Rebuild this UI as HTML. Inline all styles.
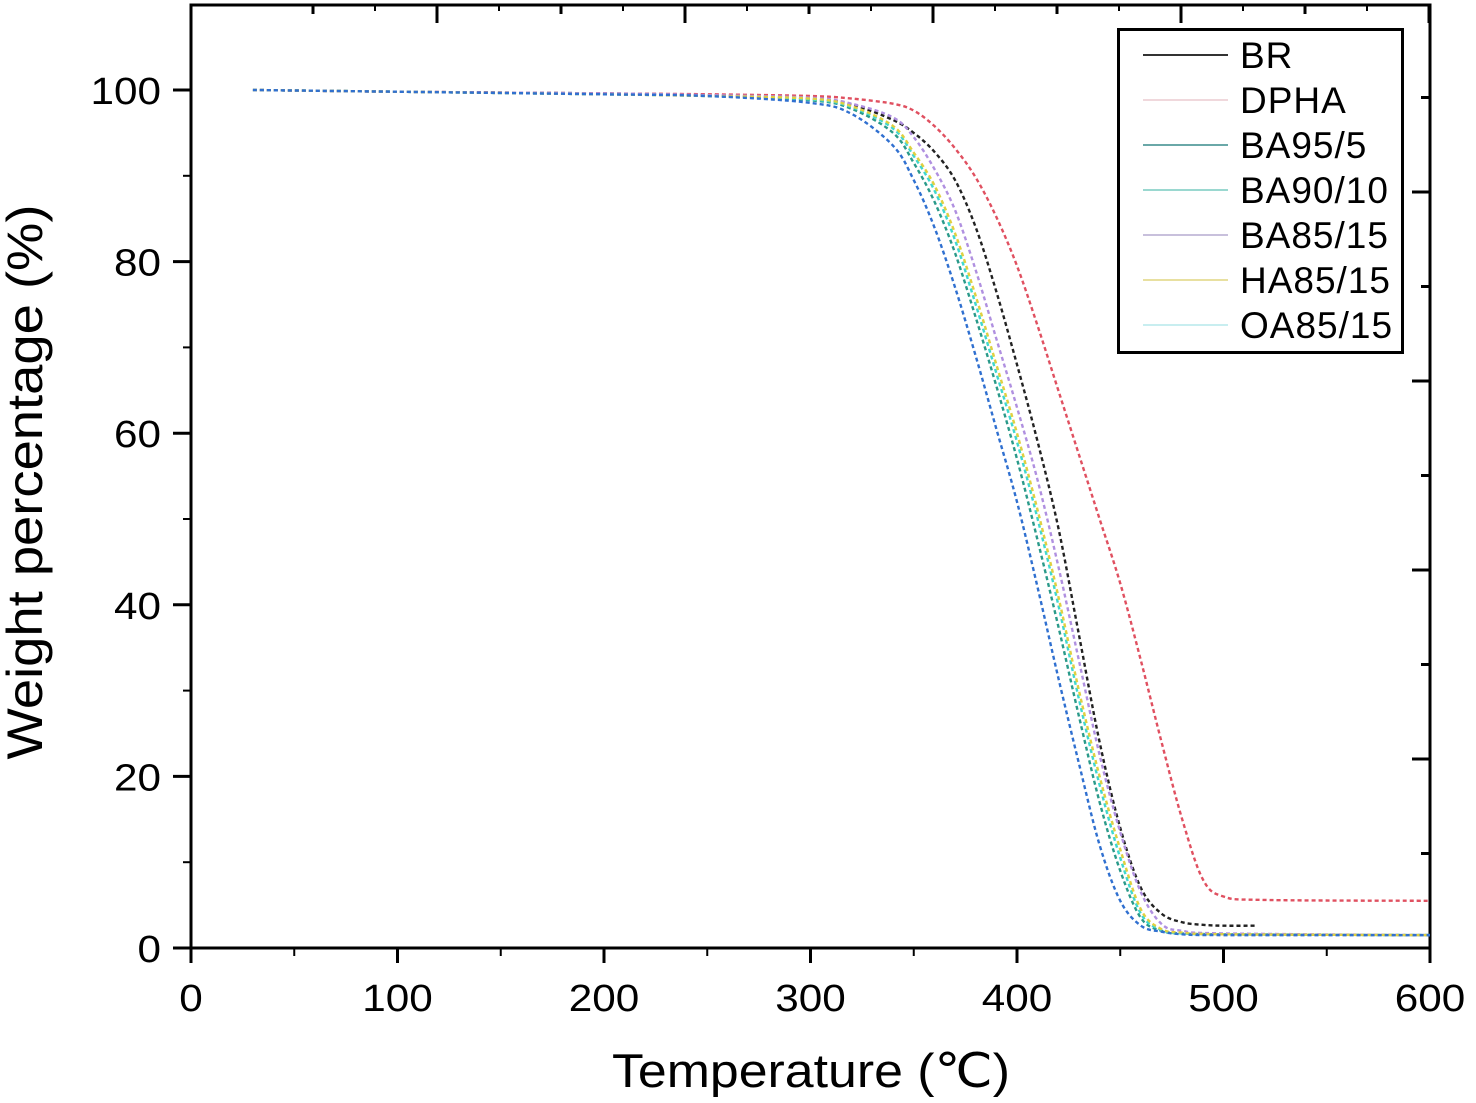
<!DOCTYPE html>
<html><head><meta charset="utf-8"><style>
body{margin:0;background:#fff;}
svg{display:block;font-family:"Liberation Sans",sans-serif;}
</style></head><body>
<svg id="chart" width="1476" height="1103" viewBox="0 0 1476 1103">
<g id="axes"></g>
<g id="series"></g>
<g id="legend"></g>
<text x="811" y="1087" text-anchor="middle" font-size="47" textLength="398" lengthAdjust="spacingAndGlyphs">Temperature (℃)</text>
<text transform="translate(42,482) rotate(-90)" text-anchor="middle" font-size="50" textLength="555" lengthAdjust="spacingAndGlyphs">Weight percentage (%)</text>
</svg>
<script>
const xTicks=[0,100,200,300,400,500,600];
const yTicks=[0,20,40,60,80,100];
const seriesNames=["BR","DPHA","BA95/5","BA90/10","BA85/15","HA85/15","OA85/15"];
const seriesColors=["#222","#e05060","#2a9a8a","#40d8d0","#b090e0","#e0d040","#3070d0"];
const legendColors=["#333","#f0d8dc","#6aa8a8","#9ad8d0","#c8c0dc","#e8e0a0","#c8eef0"];
const tBR=[30,100,200,250,300,320,340,350,360,370,380,390,400,410,420,430,440,450,460,470,480,490,500,516];
const wBR=[100,99.8,99.6,99.4,99,98.3,96.5,95,92.8,89.5,84,76.5,68,59,49,36.5,24,14,7,4,3,2.7,2.6,2.6];
const tDPHA=[30,100,200,250,300,320,340,350,360,370,380,390,400,410,420,430,440,450,460,470,480,490,500,520,600];
const wDPHA=[100,99.8,99.6,99.5,99.3,99,98.4,97.6,95.8,93.2,89.8,85.2,79.5,72.5,65,57.5,50,42.5,33.5,24,15,8,6,5.6,5.5];
const tMid=[30,100,200,250,300,320,340,350,360,370,380,390,400,410,420,430,440,450,460,470,480,500,600];
const wBA95=[100,99.8,99.5,99.3,98.8,97.8,95,91.5,87,81,73.5,65.5,57,47.5,37.5,27,17,9,3.5,2,1.7,1.6,1.5];
const wBA90=[100,99.8,99.5,99.3,98.9,98,95.5,92.3,88.3,82.5,75,67,59,50,40,29,19,10.5,4,2.1,1.7,1.6,1.5];
const wBA85=[100,99.8,99.6,99.4,99.1,98.4,96.8,94.5,90.8,86,79,71,63,54.5,44.5,33.5,22.5,13.5,6.5,2.8,2,1.7,1.5];
const wHA85=[100,99.8,99.5,99.3,99,98.1,95.8,92.7,88.9,83.3,76,68,60,51,41,30,20,11.5,4.5,2.2,1.8,1.6,1.5];
const wOA85=[100,99.8,99.5,99.3,98.5,97.2,93.5,89.5,84,77,69,60.5,52,42,31.5,21.5,12,5.5,2.6,1.9,1.6,1.5,1.5];

const X0=191,X1=1430,Y0=948,Y100=90,TOP=5;
const xs=v=>X0+(v-0)/600*(X1-X0);
const ys=v=>Y0-(v/100)*(Y0-Y100);
const NS="http://www.w3.org/2000/svg";
function mk(tag,attrs,parent){const e=document.createElementNS(NS,tag);for(const k in attrs)e.setAttribute(k,attrs[k]);parent.appendChild(e);return e;}
const axes=document.getElementById('axes');
let f=mk('rect',{x:X0,y:TOP,width:X1-X0,height:Y0-TOP,fill:'none',stroke:'#000','stroke-width':3},axes);


xTicks.forEach(v=>{
  const x=xs(v);
  let t=mk('line',{x1:x,x2:x,y1:Y0,y2:Y0+15,stroke:'#000','stroke-width':3},axes);
  
  
  const s=String(v);
  let l=mk('text',{x:x,y:Y0+63,'text-anchor':'middle','font-size':38,textLength:s.length*23.5,lengthAdjust:'spacingAndGlyphs'},axes);
  l.textContent=s;
  
  
  if(v<600){let m=mk('line',{x1:xs(v+50),x2:xs(v+50),y1:Y0,y2:Y0+8,stroke:'#000','stroke-width':2},axes);
  
  }
});
yTicks.forEach(v=>{
  const y=ys(v);
  let t=mk('line',{x1:X0-18,x2:X0,y1:y,y2:y,stroke:'#000','stroke-width':3},axes);
  
  
  const s=String(v);
  let l=mk('text',{x:X0-30,y:y+14,'text-anchor':'end','font-size':38,textLength:s.length*23.5,lengthAdjust:'spacingAndGlyphs'},axes);
  l.textContent=s;
  
  
  if(v<100){let m=mk('line',{x1:X0-8,x2:X0,y1:ys(v+10),y2:ys(v+10),stroke:'#000','stroke-width':2},axes);
  
  }
});
for(let i=0;i<10;i++){
  const x=313+62*i*2; const big=i%2==1;
  let t=mk('line',{x1:x,x2:x,y1:TOP,y2:TOP+(big?18:9),stroke:'#000','stroke-width':3},axes);
  
  
  let t2=mk('line',{x1:x+62,x2:x+62,y1:TOP,y2:TOP+6,stroke:'#000','stroke-width':2},axes);
  
  
}
for(let i=1;i<10;i++){
  const y=948-94.5*i; const big=i%2==0;
  let t=mk('line',{x1:X1-(big?18:9),x2:X1,y1:y,y2:y,stroke:'#000','stroke-width':3},axes);
  
  
}
const sg=document.getElementById('series');
function pathFor(T,W){
  const p=T.map((t,i)=>[xs(t),ys(W[i])]);
  let d=`M${p[0][0]},${p[0][1]}`;
  for(let i=0;i<p.length-1;i++){
    const p0=p[Math.max(0,i-1)],p1=p[i],p2=p[i+1],p3=p[Math.min(p.length-1,i+2)];
    const c1=[p1[0]+(p2[0]-p0[0])/6,p1[1]+(p2[1]-p0[1])/6];
    const c2=[p2[0]-(p3[0]-p1[0])/6,p2[1]-(p3[1]-p1[1])/6];
    d+=`C${c1[0]},${c1[1]} ${c2[0]},${c2[1]} ${p2[0]},${p2[1]}`;
  }
  return d;
}
const data=[[tBR,wBR],[tDPHA,wDPHA],[tMid,wBA95],[tMid,wBA90],[tMid,wBA85],[tMid,wHA85],[tMid,wOA85]];
data.forEach((s,i)=>{
  const e=mk('path',{d:pathFor(s[0],s[1]),fill:'none',stroke:seriesColors[i],'stroke-width':2.4,'stroke-dasharray':'4 3'},sg);
  
  
});
const lg=document.getElementById('legend');
let lb=mk('rect',{x:1118.5,y:29.5,width:284,height:323,fill:'#fff',stroke:'#000','stroke-width':3},lg);


seriesNames.forEach((n,i)=>{
  const y=55+45*i;
  let l=mk('line',{x1:1143,x2:1228,y1:y,y2:y,stroke:legendColors[i],'stroke-width':2},lg);
  
  
  let t=mk('text',{x:1240,y:y+13,'font-size':37,'letter-spacing':1},lg);
  t.textContent=n;
  
  
});
</script>
</body></html>
